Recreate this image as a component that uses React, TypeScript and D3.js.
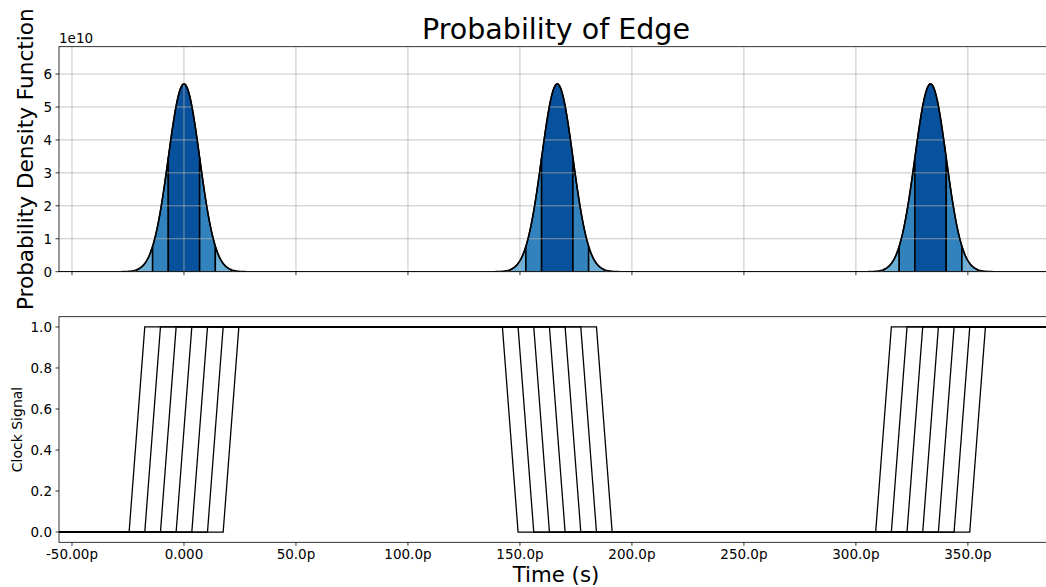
import React from "react";
import * as d3 from "d3";

// ---- data ----
const edgeCenters = [0, 166.67, 333.33]; // ps, centers of the edge PDFs
const sigma = 7; // ps
const pdfPeak = 5.7; // x1e10
const bandEdges = [-3, -2, -1, 1, 2, 3]; // in sigma units
const bandColors = ["#6baed6", "#3182bd", "#08519c", "#3182bd", "#6baed6"];
const clockOffsets = [-21, -14, -7, 0, 7, 14, 21]; // ps jitter offsets
const riseTime = 7; // ps
const clockPeriodEdges = [
  { t: 0, dir: "rise" },
  { t: 166.67, dir: "fall" },
  { t: 333.33, dir: "rise" },
];
const xTicks = [-50, 0, 50, 100, 150, 200, 250, 300, 350];
const xTickLabels = ["-50.00p", "0.000", "50.0p", "100.0p", "150.0p", "200.0p", "250.0p", "300.0p", "350.0p"];
const pdfTicks = [0, 1, 2, 3, 4, 5, 6];
const clockTicks = [0, 0.2, 0.4, 0.6, 0.8, 1.0];
const clockTickLabels = ["0.0", "0.2", "0.4", "0.6", "0.8", "1.0"];

const W = 1046;
const H = 587;
const FONT = "DejaVu Sans, sans-serif";

export default function App() {
  const left = 59;
  const right = 1053;
  const top1 = 46.7, bot1 = 271.7;
  const top2 = 316.7, bot2 = 542.3;

  const x = d3.scaleLinear().domain([-55.8, 388]).range([left, right]);
  const y1 = d3.scaleLinear().domain([0, 6.83]).range([bot1, top1]);
  const y2 = d3.scaleLinear().domain([-0.05, 1.05]).range([bot2, top2]);

  const [x0, x1] = x.domain();
  const pdf = (t: number) =>
    d3.sum(edgeCenters, (c) => pdfPeak * Math.exp(-0.5 * ((t - c) / sigma) ** 2));

  const ts = d3.range(x0, x1 + 0.25, 0.25);
  const line1 = d3.line<number>().x((t) => x(t)).y((t) => y1(pdf(t)));

  const bands: { d: string; fill: string }[] = [];
  edgeCenters.forEach((c) => {
    for (let i = 0; i < bandEdges.length - 1; i++) {
      const a = c + bandEdges[i] * sigma;
      const b = c + bandEdges[i + 1] * sigma;
      const pts = d3.range(a, b + 0.001, (b - a) / 60);
      const area = d3
        .area<number>()
        .x((t) => x(t))
        .y0(y1(0))
        .y1((t) => y1(pdf(t)));
      bands.push({ d: area(pts) || "", fill: bandColors[i] });
    }
  });

  const clockPaths = clockOffsets.map((d) => {
    const pts: [number, number][] = [[x0 - 10, 0]];
    clockPeriodEdges.forEach((e) => {
      const lo = e.dir === "rise" ? 0 : 1;
      const hi = 1 - lo;
      pts.push([e.t + d - riseTime / 2, lo]);
      pts.push([e.t + d + riseTime / 2, hi]);
    });
    pts.push([x1 + 10, 1]);
    return d3.line<[number, number]>().x((p) => x(p[0])).y((p) => y2(p[1]))(pts) || "";
  });

  const tickLen = 3.5;
  const tickFont = 13.5;
  return (
    <svg
      width={W}
      height={H}
      style={{ position: "absolute", left: 0, top: 0, background: "#fff" }}
      fontFamily={FONT}
    >
      <defs>
        <clipPath id="c1">
          <rect x={left} y={top1} width={right - left} height={bot1 - top1} />
        </clipPath>
        <clipPath id="c2">
          <rect x={left} y={top2} width={right - left} height={bot2 - top2} />
        </clipPath>
      </defs>
      <rect x={0} y={0} width={W} height={H} fill="#fff" />

      {/* Top panel */}
      <g clipPath="url(#c1)">
        {bands.map((b, i) => (
          <path key={i} d={b.d} fill={b.fill} stroke="#000" strokeWidth={1.5} strokeLinejoin="miter" />
        ))}
        {xTicks.map((t) => (
          <line key={t} x1={x(t)} x2={x(t)} y1={top1} y2={bot1} stroke="#b0b0b0" strokeOpacity={0.8} strokeWidth={0.9} />
        ))}
        {pdfTicks.map((t) => (
          <line key={t} x1={left} x2={right} y1={y1(t)} y2={y1(t)} stroke="#b0b0b0" strokeOpacity={0.8} strokeWidth={0.9} />
        ))}
        <path d={line1(ts) || ""} fill="none" stroke="#000" strokeWidth={1.5} />
      </g>
      <rect x={left} y={top1} width={right - left} height={bot1 - top1} fill="none" stroke="#000" strokeWidth={0.8} />
      {xTicks.map((t) => (
        <line key={t} x1={x(t)} x2={x(t)} y1={bot1} y2={bot1 + tickLen} stroke="#000" strokeWidth={0.8} />
      ))}
      {pdfTicks.map((t) => (
        <g key={t}>
          <line x1={left - tickLen} x2={left} y1={y1(t)} y2={y1(t)} stroke="#000" strokeWidth={0.8} />
          <text x={left - 7} y={y1(t)} dy="0.36em" textAnchor="end" fontSize={tickFont} fill="#000">
            {t}
          </text>
        </g>
      ))}
      <text x={left} y={43} fontSize={13.5} fill="#000">1e10</text>
      <text
        transform={`translate(33,${(top1 + bot1) / 2}) rotate(-90)`}
        textAnchor="middle"
        fontSize={21.6}
        fill="#000"
      >
        Probability Density Function
      </text>
      <text x={(left + right) / 2} y={38.5} textAnchor="middle" fontSize={28.5} fill="#000">
        Probability of Edge
      </text>

      {/* Bottom panel */}
      <g clipPath="url(#c2)">
        {clockPaths.map((d, i) => (
          <path key={i} d={d} fill="none" stroke="#000" strokeWidth={1.3} />
        ))}
      </g>
      <rect x={left} y={top2} width={right - left} height={bot2 - top2} fill="none" stroke="#000" strokeWidth={0.8} />
      {xTicks.map((t, i) => (
        <g key={t}>
          <line x1={x(t)} x2={x(t)} y1={bot2} y2={bot2 + tickLen} stroke="#000" strokeWidth={0.8} />
          <text x={x(t)} y={bot2 + 17} textAnchor="middle" fontSize={tickFont} fill="#000">
            {xTickLabels[i]}
          </text>
        </g>
      ))}
      {clockTicks.map((t, i) => (
        <g key={t}>
          <line x1={left - tickLen} x2={left} y1={y2(t)} y2={y2(t)} stroke="#000" strokeWidth={0.8} />
          <text x={left - 7} y={y2(t)} dy="0.36em" textAnchor="end" fontSize={tickFont} fill="#000">
            {clockTickLabels[i]}
          </text>
        </g>
      ))}
      <text
        transform={`translate(22,${(top2 + bot2) / 2}) rotate(-90)`}
        textAnchor="middle"
        fontSize={14}
        fill="#000"
      >
        Clock Signal
      </text>
      <text x={(left + right) / 2} y={582} textAnchor="middle" fontSize={21.3} fill="#000">
        Time (s)
      </text>
    </svg>
  );
}
